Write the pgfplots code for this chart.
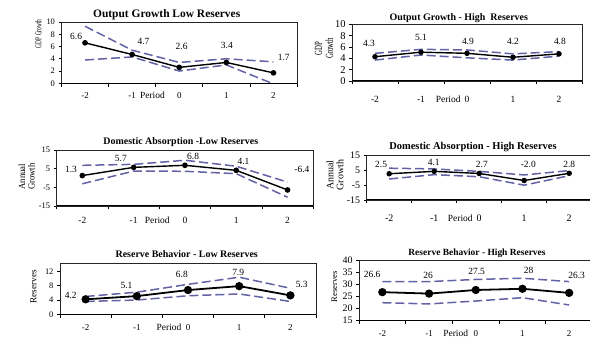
\documentclass[border=0pt]{standalone}
\usepackage{fontspec}
\setmainfont{Liberation Serif}
\usepackage{graphicx}
\usepackage{pgfplots}
\pgfplotsset{compat=1.18}

\definecolor{band}{RGB}{98,98,165}

\newcommand{\fs}[1]{\fontsize{#1}{#1}\selectfont}

\tikzset{xbase/.style={draw=black, line width=1bp}}

\pgfplotsset{
  panel/.style={
    scale only axis, anchor=south west, clip=false,
    xmin=-0.5, xmax=4.5, enlargelimits=false,
    xtick={0,1,2,3,4}, xticklabels={-2,-1,0,1,2},
    minor xtick={-0.5,0.5,1.5,2.5,3.5,4.5},
    major x tick style={draw=none},
    minor x tick style={black, line width=0.8bp},
    minor tick length=3.5bp, major tick length=3bp,
    tick align=outside, tick pos=left,
    ytick style={black, line width=0.6bp},
    axis line style={line width=0.6bp, black!85},
    /pgf/number format/assume math mode=true,
    xticklabel style={anchor=base},
  },
  mid/.style={black, line width=1.4bp, mark=*, mark size=2.1bp, mark options={solid}},
  bnd/.style={band, line width=1.5bp, dash pattern=on 9bp off 4bp, mark=none},
}

% value label inside an axis
\newcommand{\lab}[3]{\node[font=\fs{9.5}, inner sep=0pt] at (axis cs:#1,#2) {#3};}
% x axis title, set on the baseline of the category labels
\newcommand{\period}[3]{\node[font=\fs{9.5}, anchor=base] at (axis cs:#1,#2) [yshift=#3] {Period};}

\begin{document}
\begin{tikzpicture}
\useasboundingbox (0,0) rectangle (590bp,342bp);

% ---------------- Output growth, low reserves
\begin{axis}[panel, at={(61.5bp,258.7bp)}, width=235.5bp, height=61.3bp,
  ymin=0, ymax=10, ytick={0,2,...,10},
  yticklabel style={font=\fs{8.5}},
  xticklabel style={font=\fs{9}, yshift=-12.3bp}]
\addplot[bnd] coordinates {(0,9.3)(1,5.4)(2,3.4)(3,4.0)(4,3.5)};
\addplot[bnd] coordinates {(0,3.8)(1,4.3)(2,2.0)(3,3.0)(4,-0.1)};
\addplot[mid] coordinates {(0,6.6)(1,4.7)(2,2.6)(3,3.4)(4,1.7)};
\draw[xbase] (rel axis cs:0,0) -- (rel axis cs:1,0);
\lab{-0.19}{7.7}{6.6}\lab{1.24}{6.8}{4.7}\lab{2.05}{6.0}{2.6}\lab{3.01}{6.25}{3.4}\lab{4.22}{4.2}{1.7}
\period{1.43}{0}{-15.3bp}
\end{axis}

% ---------------- Output growth, high reserves
\begin{axis}[panel, at={(352bp,261bp)}, width=230bp, height=56.5bp,
  ymin=0, ymax=10, ytick={0,2,...,10},
  yticklabel style={font=\fs{10.5}},
  xticklabel style={font=\fs{9.5}, yshift=-18.3bp}]
\addplot[bnd] coordinates {(0,4.9)(1,5.6)(2,5.5)(3,4.8)(4,5.2)};
\addplot[bnd] coordinates {(0,3.7)(1,4.6)(2,4.1)(3,3.7)(4,4.4)};
\addplot[mid, mark size=2bp] coordinates {(0,4.3)(1,5.1)(2,4.9)(3,4.2)(4,4.8)};
\draw[xbase] (rel axis cs:0,0) -- (rel axis cs:1,0);
\lab{-0.13}{6.7}{4.3}\lab{1.0}{7.7}{5.1}\lab{2.02}{7.0}{4.9}\lab{3.0}{7.0}{4.2}\lab{4.02}{7.0}{4.8}
\period{1.59}{0}{-21.3bp}
\end{axis}

% ---------------- Domestic absorption, low reserves
\begin{axis}[panel, at={(56.7bp,136bp)}, width=256.5bp, height=56bp,
  ymin=-15, ymax=15, ytick={-15,-5,5,15},
  yticklabel style={font=\fs{8.5}},
  xticklabel style={font=\fs{9.5}, yshift=-14.3bp}]
\addplot[bnd] coordinates {(0,6.8)(1,7.3)(2,9.5)(3,6.3)(4,-2.2)};
\addplot[bnd] coordinates {(0,-3.1)(1,3.7)(2,3.6)(3,2.3)(4,-10.3)};
\addplot[mid] coordinates {(0,1.3)(1,5.7)(2,6.8)(3,4.1)(4,-6.4)};
\draw[xbase] (rel axis cs:0,0) -- (rel axis cs:1,0);
\lab{-0.22}{4.7}{1.3}\lab{0.75}{10.2}{5.7}\lab{2.16}{11.8}{6.8}\lab{3.14}{9.1}{4.1}\lab{4.28}{4.7}{-6.4}
\period{1.46}{-15}{-17.3bp}
\end{axis}

% ---------------- Domestic absorption, high reserves
\begin{axis}[panel, at={(366.7bp,142bp)}, width=225bp, height=45bp,
  ymin=-15, ymax=15, ytick={-15,-5,5,15},
  yticklabel style={font=\fs{10}},
  xticklabel style={font=\fs{10}, yshift=-18.3bp}]
\addplot[bnd] coordinates {(0,6.2)(1,5.7)(2,4.1)(3,1.7)(4,4.6)};
\addplot[bnd] coordinates {(0,-1.0)(1,1.9)(2,0.5)(3,-5.1)(4,1.2)};
\addplot[mid, mark size=2bp] coordinates {(0,2.5)(1,4.1)(2,2.7)(3,-2.0)(4,2.8)};
\draw[xbase] (rel axis cs:0,0) -- (rel axis cs:1,0);
\lab{-0.18}{9}{2.5}\lab{0.99}{10.1}{4.1}\lab{2.06}{9}{2.7}\lab{3.09}{9}{-2.0}\lab{4.0}{9}{2.8}
\period{1.58}{-15}{-21.3bp}
\end{axis}

% ---------------- Reserve behaviour, low reserves
\begin{axis}[panel, at={(60bp,27.7bp)}, width=256bp, height=51bp,
  ymin=0, ymax=14.3, ytick={0,4,8,12},
  yticklabel style={font=\fs{8.5}},
  xticklabel style={font=\fs{9}, yshift=-12.7bp}]
\addplot[bnd] coordinates {(0,5.0)(1,6.2)(2,8.4)(3,10.4)(4,7.3)};
\addplot[bnd] coordinates {(0,3.6)(1,4.0)(2,5.2)(3,5.7)(4,3.6)};
\addplot[mid, line width=1.8bp, mark size=3.2bp] coordinates {(0,4.2)(1,5.1)(2,6.8)(3,7.9)(4,5.3)};
\draw[xbase] (rel axis cs:0,0) -- (rel axis cs:1,0);
\lab{-0.29}{5.2}{4.2}\lab{0.80}{8.2}{5.1}\lab{1.88}{11.2}{6.8}\lab{2.98}{11.7}{7.9}\lab{4.22}{8.5}{5.3}
\period{1.63}{0}{-15.7bp}
\end{axis}

% ---------------- Reserve behaviour, high reserves
\begin{axis}[panel, at={(359bp,22bp)}, width=233.5bp, height=60bp,
  ymin=15, ymax=40, ytick={15,20,...,40},
  yticklabel style={font=\fs{10}},
  xticklabel style={font=\fs{9}, yshift=-13.3bp}]
\addplot[bnd] coordinates {(0,31.0)(1,31.0)(2,31.9)(3,32.4)(4,31.0)};
\addplot[bnd] coordinates {(0,22.2)(1,21.7)(2,22.9)(3,24.3)(4,21.25)};
\addplot[mid, line width=1.8bp, mark size=3.2bp] coordinates {(0,26.6)(1,26)(2,27.5)(3,28)(4,26.3)};
\draw[xbase] (rel axis cs:0,0) -- (rel axis cs:1,0);
\lab{-0.22}{34}{26.6}\lab{0.98}{33.5}{26}\lab{2.02}{35.1}{27.5}\lab{3.13}{35.5}{28}\lab{4.16}{33.75}{26.3}
\period{1.57}{15}{-16.3bp}
\end{axis}

% ---------------- titles
\node[font=\bfseries\fs{11.5}] at (166.7bp,327bp) {Output Growth Low Reserves};
\node[font=\bfseries\fs{10}] at (458.8bp,323.7bp) {Output Growth - High\ \ Reserves};
\node[font=\bfseries\fs{10}] at (180.8bp,200.3bp) {Domestic Absorption -Low Reserves};
\node[font=\bfseries\fs{10.5}] at (473bp,194.7bp) {Domestic Absorption - High Reserves};
\node[font=\bfseries\fs{10}] at (186.7bp,87.7bp) {Reserve Behavior - Low Reserves};
\node[font=\bfseries\fs{9.5}] at (477bp,88.7bp) {Reserve Behavior - High Reserves};

% ---------------- value axis titles
\node[rotate=90, font=\fs{9}] at (38.3bp,308.2bp) {\scalebox{0.6}[1]{GDP Growth}};
\node[rotate=90, align=center, font=\fs{11}] at (324bp,293.7bp)
  {\scalebox{0.62}[1]{GDP}\\\scalebox{0.62}[1]{Growth}};
\node[rotate=90, align=center, font=\fs{9.5}] at (26.7bp,165.3bp)
  {\scalebox{0.92}[1]{Annual}\\\scalebox{0.92}[1]{Growth}};
\node[rotate=90, align=center, font=\fs{10}] at (335bp,167bp)
  {Annual\\Growth};
\node[rotate=90, font=\fs{9.2}] at (33.3bp,55.3bp) {Reserves};
\node[rotate=90, font=\fs{8.6}] at (334.3bp,55bp) {Reserves};
\end{tikzpicture}
\end{document}
